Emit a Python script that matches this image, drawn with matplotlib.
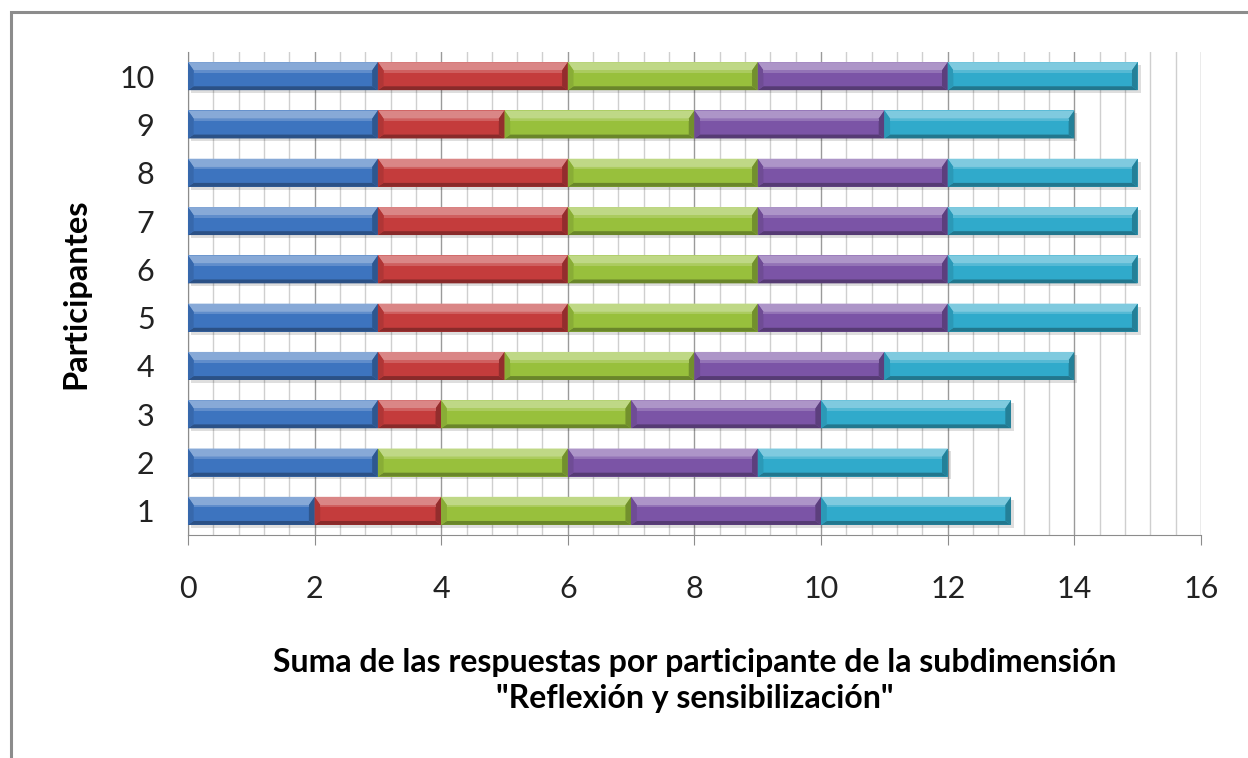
import numpy as np
import matplotlib.pyplot as plt
from matplotlib.patches import Polygon, Rectangle
from matplotlib.ticker import MultipleLocator
import matplotlib.colors as mcolors

# Responses per participant, one list per item of the subdimension
participantes = [1, 2, 3, 4, 5, 6, 7, 8, 9, 10]
item1 = [2, 3, 3, 3, 3, 3, 3, 3, 3, 3]
item2 = [2, 0, 1, 2, 3, 3, 3, 3, 2, 3]
item3 = [3, 3, 3, 3, 3, 3, 3, 3, 3, 3]
item4 = [3, 3, 3, 3, 3, 3, 3, 3, 3, 3]
item5 = [3, 3, 3, 3, 3, 3, 3, 3, 3, 3]
series = [item1, item2, item3, item4, item5]
colores = ['#3d74bf', '#c43c3c', '#98c03c', '#7b54a6', '#30aacb']

plt.rcParams['font.family'] = ['Lato', 'DejaVu Sans']

fig = plt.figure(figsize=(12.48, 7.58), dpi=100)
ax = fig.add_axes([0.1506, 0.2942, 0.8117, 0.6372])

# outer frame of the chart area
fig.patches.append(Rectangle((0.0085, -0.05), 1.1, 1.034, transform=fig.transFigure,
                             fill=False, edgecolor='#8c8c8c', linewidth=2.2, zorder=0))

def shade(c, f):
    r, g, b = mcolors.to_rgb(c)
    if f > 0:
        return (r + (1 - r) * f, g + (1 - g) * f, b + (1 - b) * f)
    return (r * (1 + f), g * (1 + f), b * (1 + f))

h = 0.58
left = np.zeros(len(participantes))
for vals, col in zip(series, colores):
    vals = np.array(vals)
    bars = ax.barh(participantes, vals, left=left, height=h, color=col,
                   edgecolor='none', zorder=3)
    # bevelled faces on each segment
    for b, v in zip(bars, vals):
        if v == 0:
            continue
        x0, y0 = b.get_x(), b.get_y()
        x1, y1 = x0 + b.get_width(), y0 + b.get_height()
        dx, dt, db = 0.09, 0.17, 0.08
        faces = [
            ([(x0, y1), (x1, y1), (x1 - dx, y1 - dt), (x0 + dx, y1 - dt)], shade(col, 0.38)),
            ([(x0, y0), (x1, y0), (x1 - dx, y0 + db), (x0 + dx, y0 + db)], shade(col, -0.3)),
            ([(x0, y0), (x0, y1), (x0 + dx, y1 - dt), (x0 + dx, y0 + db)], shade(col, -0.1)),
            ([(x1, y0), (x1, y1), (x1 - dx, y1 - dt), (x1 - dx, y0 + db)], shade(col, -0.25)),
        ]
        for pts, fc in faces:
            ax.add_patch(Polygon(pts, closed=True, facecolor=fc, edgecolor='none', zorder=4))
        ax.add_patch(Rectangle((x0 + dx, y1 - dt - 0.05), x1 - x0 - 2 * dx, 0.05,
                               facecolor=shade(col, 0.18), edgecolor='none', zorder=4))
    left = left + vals

# shadows behind the full stacked bars
for p, tot in zip(participantes, left):
    ax.add_patch(Rectangle((0.05, p - h / 2 - 0.06), tot, h, facecolor='#000000',
                           alpha=0.13, edgecolor='none', zorder=2))

ax.set_xlim(0, 16)
ax.set_ylim(0.5, 10.5)
ax.xaxis.set_major_locator(MultipleLocator(2))
ax.xaxis.set_minor_locator(MultipleLocator(0.4))
ax.set_yticks(participantes)
ax.grid(which='minor', axis='x', color='#cfcfcf', linewidth=1.0, zorder=1)
ax.grid(which='major', axis='x', color='#9a9a9a', linewidth=1.0, zorder=1)
ax.set_axisbelow(True)

for s in ['top', 'right']:
    ax.spines[s].set_visible(False)
ax.spines['bottom'].set_color('#8c8c8c')
ax.spines['left'].set_color('#8c8c8c')
ax.tick_params(axis='x', which='major', length=7, color='#8c8c8c', labelsize=22,
               pad=22, labelcolor='#222222')
ax.tick_params(axis='x', which='minor', length=0)
ax.tick_params(axis='y', length=0, labelsize=22, pad=24, labelcolor='#222222')

ax.set_xlabel('Suma de las respuestas por participante de la subdimensión\n"Reflexión y sensibilización"',
              fontsize=23, fontweight='bold', labelpad=32, linespacing=1.32)
ax.set_ylabel('Participantes', fontsize=23.5, fontweight='bold', labelpad=21)

fig.savefig('out.png', dpi=100)
